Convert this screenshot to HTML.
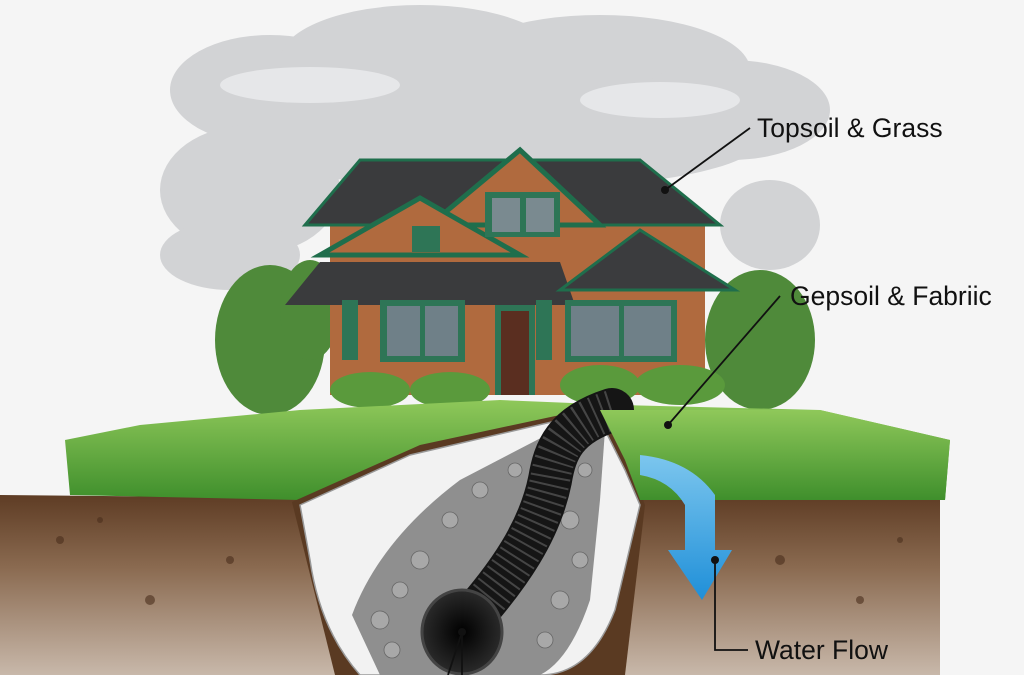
<!DOCTYPE html>
<html><head><meta charset="utf-8"><style>
html,body{margin:0;padding:0;background:#f4f4f4;}
svg{display:block}
text{font-family:"Liberation Sans",sans-serif;font-size:26.5px;fill:#111}
</style></head><body>
<svg width="1024" height="675" viewBox="0 0 1024 675" xmlns="http://www.w3.org/2000/svg">
<defs>
<linearGradient id="soil" x1="0" y1="0" x2="0" y2="1">
<stop offset="0" stop-color="#5e3c24"/><stop offset="0.4" stop-color="#8a6a50"/><stop offset="1" stop-color="#c8b8aa"/></linearGradient>
<linearGradient id="grass" x1="0" y1="0" x2="0" y2="1">
<stop offset="0" stop-color="#8fc85a"/><stop offset="1" stop-color="#3f8f2c"/></linearGradient>
<linearGradient id="blue" x1="0" y1="0" x2="0" y2="1">
<stop offset="0" stop-color="#7cc6ee"/><stop offset="1" stop-color="#1f8fd8"/></linearGradient>
<radialGradient id="hole" cx="0.5" cy="0.5" r="0.5"><stop offset="0" stop-color="#000"/><stop offset="1" stop-color="#2a2a2a"/></radialGradient>
</defs>
<rect width="1024" height="675" fill="#f5f5f5"/>
<!-- clouds -->
<g fill="#d2d3d5">
<ellipse cx="270" cy="90" rx="100" ry="55"/><ellipse cx="420" cy="60" rx="140" ry="55"/>
<ellipse cx="600" cy="70" rx="150" ry="55"/><ellipse cx="730" cy="110" rx="100" ry="50"/>
<ellipse cx="250" cy="190" rx="90" ry="65"/><ellipse cx="500" cy="140" rx="260" ry="50"/>
<ellipse cx="770" cy="225" rx="50" ry="45"/><ellipse cx="230" cy="255" rx="70" ry="35"/>
</g>
<g fill="#e6e7e9"><ellipse cx="310" cy="85" rx="90" ry="18"/><ellipse cx="660" cy="100" rx="80" ry="18"/></g>
<!-- bushes -->
<g fill="#4f8a3a"><ellipse cx="270" cy="340" rx="55" ry="75"/><ellipse cx="760" cy="340" rx="55" ry="70"/>
<ellipse cx="310" cy="310" rx="30" ry="50"/></g>
<!-- house -->
<rect x="330" y="225" width="375" height="170" fill="#b06a3e"/>
<polygon points="305,225 360,160 640,160 720,225" fill="#3a3b3d" stroke="#1f6e4c" stroke-width="3"/>
<polygon points="430,225 520,150 600,225" fill="#b06a3e" stroke="#1f6e4c" stroke-width="5"/>
<polygon points="320,255 420,198 520,255" fill="#b06a3e" stroke="#1f6e4c" stroke-width="5"/>
<polygon points="285,305 320,262 560,262 575,305" fill="#3a3b3d"/>
<polygon points="560,290 640,230 735,290" fill="#3b3c3e" stroke="#1f6e4c" stroke-width="3"/>
<rect x="485" y="192" width="75" height="45" fill="#2e7556"/><rect x="492" y="198" width="28" height="34" fill="#7a8a90"/><rect x="526" y="198" width="28" height="34" fill="#7a8a90"/>
<rect x="412" y="226" width="28" height="26" fill="#2e7556"/>
<rect x="380" y="300" width="85" height="62" fill="#2e7556"/><rect x="387" y="306" width="33" height="50" fill="#6f8088"/><rect x="425" y="306" width="33" height="50" fill="#6f8088"/>
<rect x="495" y="305" width="40" height="90" fill="#2e7556"/><rect x="501" y="311" width="28" height="84" fill="#5a2e20"/>
<rect x="565" y="300" width="112" height="62" fill="#2e7556"/><rect x="571" y="306" width="48" height="50" fill="#6f8088"/><rect x="624" y="306" width="47" height="50" fill="#6f8088"/>
<rect x="342" y="300" width="16" height="60" fill="#2e7556"/><rect x="536" y="300" width="16" height="60" fill="#2e7556"/>
<g fill="#5a9a3c"><ellipse cx="370" cy="390" rx="40" ry="18"/><ellipse cx="450" cy="390" rx="40" ry="18"/><ellipse cx="600" cy="385" rx="40" ry="20"/><ellipse cx="680" cy="385" rx="45" ry="20"/></g>
<!-- soil -->
<polygon points="0,495 320,498 700,495 940,500 940,675 0,675" fill="url(#soil)"/>
<g fill="#4a2e1c" opacity="0.6"><circle cx="60" cy="540" r="4"/><circle cx="150" cy="600" r="5"/><circle cx="230" cy="560" r="4"/><circle cx="780" cy="560" r="5"/><circle cx="860" cy="600" r="4"/><circle cx="900" cy="540" r="3"/><circle cx="100" cy="520" r="3"/></g>
<!-- grass (whole band) -->
<polygon points="65,440 140,425 300,410 500,400 620,405 820,410 950,440 945,500 640,498 300,500 70,495" fill="url(#grass)"/>
<!-- trench hole dark rim -->
<path d="M292,502 L420,445 L560,415 L600,412 L625,450 L645,505 L625,675 L335,675 Z" fill="#5a3a22"/>
<!-- fabric -->
<path d="M300,505 L410,455 L560,420 L600,420 L625,470 L640,505 L615,610 Q590,675 540,675 L360,675 Q320,630 310,560 Z" fill="#f2f2f2" stroke="#999" stroke-width="1.5"/>
<!-- gravel -->
<path d="M352,615 Q380,540 460,480 L560,428 L605,430 L600,500 L590,600 Q570,660 540,675 L380,675 Z" fill="#8f8f8f"/>
<g fill="#a8a8a8" stroke="#666" stroke-width="0.8">
<circle cx="380" cy="620" r="9"/><circle cx="400" cy="590" r="8"/><circle cx="420" cy="560" r="9"/><circle cx="450" cy="520" r="8"/><circle cx="480" cy="490" r="8"/><circle cx="570" cy="520" r="9"/><circle cx="580" cy="560" r="8"/><circle cx="560" cy="600" r="9"/><circle cx="545" cy="640" r="8"/><circle cx="392" cy="650" r="8"/><circle cx="585" cy="470" r="7"/><circle cx="515" cy="470" r="7"/>
</g>
<!-- pipe -->
<path d="M612,410 C565,425 555,450 550,480 C540,530 510,575 465,625" stroke="#151515" stroke-width="44" fill="none" stroke-linecap="round"/>
<path d="M612,410 C565,425 555,450 550,480 C540,530 510,575 465,625" stroke="#5a5a5a" stroke-width="40" fill="none" stroke-dasharray="2 6" opacity="0.7"/>
<ellipse cx="462" cy="632" rx="40" ry="42" fill="url(#hole)" stroke="#444" stroke-width="3"/>
<!-- right grass edge over trench -->
<polygon points="600,410 820,410 950,440 945,500 640,500 625,460" fill="url(#grass)"/>
<!-- blue arrow -->
<path d="M640,455 Q690,460 715,495 L715,550 L732,550 L702,600 L668,550 L685,550 L685,505 Q670,480 640,475 Z" fill="url(#blue)"/>
<!-- leader lines -->
<g stroke="#111" stroke-width="1.8" fill="none">
<line x1="750" y1="128" x2="665" y2="190"/>
<line x1="780" y1="296" x2="668" y2="425"/>
<polyline points="715,560 715,650 748,650"/>
<line x1="462" y1="632" x2="448" y2="675"/><line x1="462" y1="632" x2="462" y2="675"/>
</g>
<g fill="#111"><circle cx="665" cy="190" r="4"/><circle cx="668" cy="425" r="4"/><circle cx="715" cy="560" r="4"/><circle cx="462" cy="632" r="4"/></g>
<text x="757" y="137">Topsoil &amp; Grass</text>
<text x="790" y="305">Gepsoil &amp; Fabriic</text>
<text x="755" y="659">Water Flow</text>
</svg>
</body></html>
